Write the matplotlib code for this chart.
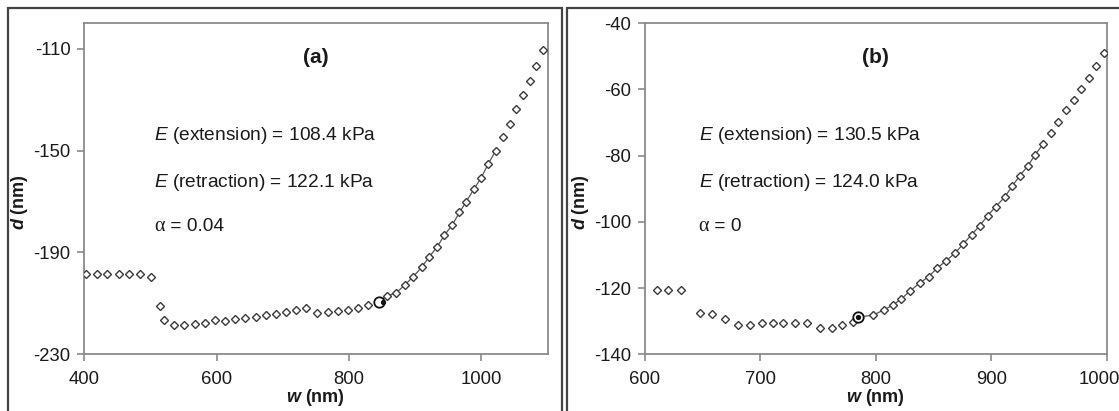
import matplotlib
matplotlib.use("Agg")
import matplotlib.pyplot as plt
import matplotlib.transforms as mtransforms
from matplotlib.patches import Rectangle
import numpy as np

plt.rcParams['font.family'] = ['Liberation Sans', 'DejaVu Sans']
plt.rcParams['mathtext.fontset'] = 'custom'
plt.rcParams['mathtext.rm'] = 'Liberation Sans'
plt.rcParams['mathtext.it'] = 'Liberation Sans:italic'
plt.rcParams['mathtext.bf'] = 'Liberation Sans:bold'
plt.rcParams['mathtext.bfit'] = 'Liberation Sans:italic:bold'
plt.rcParams['axes.unicode_minus'] = False

# ---------------- data: panel (a) ----------------
a_w = [403, 419, 435, 452, 468, 484, 501, 514, 521, 536, 550, 567, 582, 597,
       612, 628, 643, 659, 674, 690, 705, 720, 735, 752, 768, 784, 799, 814,
       829, 845, 857, 871, 884, 897, 910, 921, 933, 944, 956, 967, 977, 989,
       1000, 1010, 1022, 1032, 1043, 1053, 1063, 1073, 1083, 1093]
a_d = [-198.6, -198.6, -198.6, -198.6, -198.6, -198.6, -199.5, -211.0, -216.5,
       -218.6, -218.6, -218.0, -217.6, -216.4, -216.9, -216.3, -215.9, -215.3,
       -214.7, -214.2, -213.2, -212.7, -211.7, -213.6, -213.2, -213.0, -212.6,
       -211.7, -210.6, -209.3, -207.1, -205.9, -202.9, -199.5, -195.8, -191.8,
       -187.9, -183.3, -179.2, -174.3, -170.1, -165.0, -160.6, -155.4, -150.0,
       -144.5, -139.4, -133.7, -128.3, -122.6, -116.8, -110.3]
a_contact = (845, -209.3)
a_fit_range = (845, 1022)
a_xlim = (400, 1100)
a_ylim = (-230, -100)
a_xticks = [400, 600, 800, 1000]
a_yticks = [-110, -150, -190, -230]
a_label = "(a)"
a_ext = "108.4"
a_ret = "122.1"
a_alpha = "0.04"

# ---------------- data: panel (b) ----------------
b_w = [610, 620, 631, 648, 658, 669, 681, 691, 701, 711, 720, 730, 740, 752,
       762, 771, 780, 785, 798, 807, 815, 822, 830, 838, 846, 853, 861, 869,
       876, 883, 890, 897, 904, 912, 918, 925, 932, 938, 945, 952, 958, 965,
       972, 978, 985, 991, 998]
b_d = [-120.7, -120.7, -120.7, -127.6, -127.8, -129.4, -131.2, -131.2, -130.6,
       -130.6, -130.6, -130.6, -130.6, -132.1, -132.1, -131.2, -130.3, -128.8,
       -128.1, -126.6, -125.1, -123.3, -120.8, -118.5, -116.5, -114.0, -111.8,
       -109.3, -106.6, -103.9, -101.2, -98.1, -95.4, -92.4, -89.3, -86.0,
       -83.0, -79.8, -76.5, -73.0, -69.7, -66.2, -63.2, -59.8, -56.4, -52.8,
       -48.9]
b_contact = (785, -128.8)
b_fit_range = (785, 950)
b_xlim = (600, 1000)
b_ylim = (-140, -40)
b_xticks = [600, 700, 800, 900, 1000]
b_yticks = [-40, -60, -80, -100, -120, -140]
b_label = "(b)"
b_ext = "130.5"
b_ret = "124.0"
b_alpha = "0"

W, H = 1119, 411
fig = plt.figure(figsize=(W / 100, H / 100), dpi=100)
fig.patch.set_facecolor('white')

# panel frames (pixel coords converted to figure fractions)
for (x0, x1) in [(8, 562), (567, 1125)]:
    r = Rectangle((x0 / W, -0.05), (x1 - x0) / W, (H - 8.5) / H + 0.05,
                  transform=fig.transFigure, fill=False,
                  edgecolor='#444444', linewidth=1.6, clip_on=False)
    fig.add_artist(r)

spine_col = '#8a8a8a'
mk_col = '#3a3a3a'
txt_col = '#1a1a1a'


def draw(ax, w, d, contact, fit_range, xlim, ylim, xticks, yticks,
         label, ext, ret, alpha, text_x, black_dot_offset):
    w = np.asarray(w, float)
    d = np.asarray(d, float)
    m = (w >= fit_range[0]) & (w <= fit_range[1])
    ax.plot(w[m], d[m], '-', color='#555555', lw=0.9, zorder=2)
    ax.plot(w, d, linestyle='none', marker='D', markersize=3.8,
            markerfacecolor='white', markeredgecolor=mk_col,
            markeredgewidth=1.0, zorder=3)
    ax.plot([contact[0]], [contact[1]], linestyle='none', marker='o',
            markersize=7.5, markerfacecolor='white', markeredgecolor='#111111',
            markeredgewidth=1.3, zorder=4)
    ax.plot([contact[0] + black_dot_offset], [contact[1]], linestyle='none',
            marker='o', markersize=2.8, color='#111111', zorder=5)
    ax.set_xlim(*xlim)
    ax.set_ylim(*ylim)
    ax.set_xticks(xticks)
    ax.set_yticks(yticks)
    for s in ax.spines.values():
        s.set_color(spine_col)
        s.set_linewidth(1.3)
    ax.tick_params(axis='both', direction='out', color=spine_col, width=1.2,
                   labelsize=13.3, labelcolor=txt_col)
    ax.tick_params(axis='x', length=5, pad=7)
    ax.tick_params(axis='y', length=5, pad=5)
    ax.set_xlabel(r'$\mathbfit{w}$ (nm)', fontsize=13, fontweight='bold',
                  color=txt_col, labelpad=-1)
    ax.set_ylabel(r'$\mathbfit{d}$ (nm)', fontsize=13, fontweight='bold',
                  color=txt_col)
    ax.yaxis.set_label_coords(-0.117, 0.46)
    ax.text(0.5, 0.898, label, transform=ax.transAxes, ha='center',
            va='center', fontsize=15, fontweight='bold', color=txt_col)
    ax.text(text_x, 0.6625, r'$\mathit{E}$ (extension) = ' + ext + ' kPa',
            transform=ax.transAxes, ha='left', va='center', fontsize=13.8,
            color=txt_col)
    ax.text(text_x, 0.5205, r'$\mathit{E}$ (retraction) = ' + ret + ' kPa',
            transform=ax.transAxes, ha='left', va='center', fontsize=13.8,
            color=txt_col)
    ta = ax.text(text_x, 0.3846, 'α', transform=ax.transAxes, ha='left',
                 va='center', fontsize=14.5, color=txt_col,
                 family=['Liberation Serif', 'DejaVu Serif'])
    ax.annotate(' = ' + alpha, xy=(1, 0.5), xycoords=ta, ha='left',
                va='center', fontsize=13.8, color=txt_col)


bottom = (H - 354.3) / H
height = (354.3 - 23.3) / H
ax1 = fig.add_axes([84.3 / W, bottom, (547.5 - 84.3) / W, height])
ax2 = fig.add_axes([645 / W, bottom, (1106.5 - 645) / W, height])

draw(ax1, a_w, a_d, a_contact, a_fit_range, a_xlim, a_ylim, a_xticks,
     a_yticks, a_label, a_ext, a_ret, a_alpha, 0.151, 7)
draw(ax2, b_w, b_d, b_contact, b_fit_range, b_xlim, b_ylim, b_xticks,
     b_yticks, b_label, b_ext, b_ret, b_alpha, 0.116, 0)

# keep the last x tick label of panel (b) inside the picture edge
last = ax2.get_xticklabels()[-1]
last.set_transform(last.get_transform() +
                   mtransforms.ScaledTranslation(-7 / 100, 0,
                                                 fig.dpi_scale_trans))

fig.savefig('out.png', dpi=100, facecolor='white')
